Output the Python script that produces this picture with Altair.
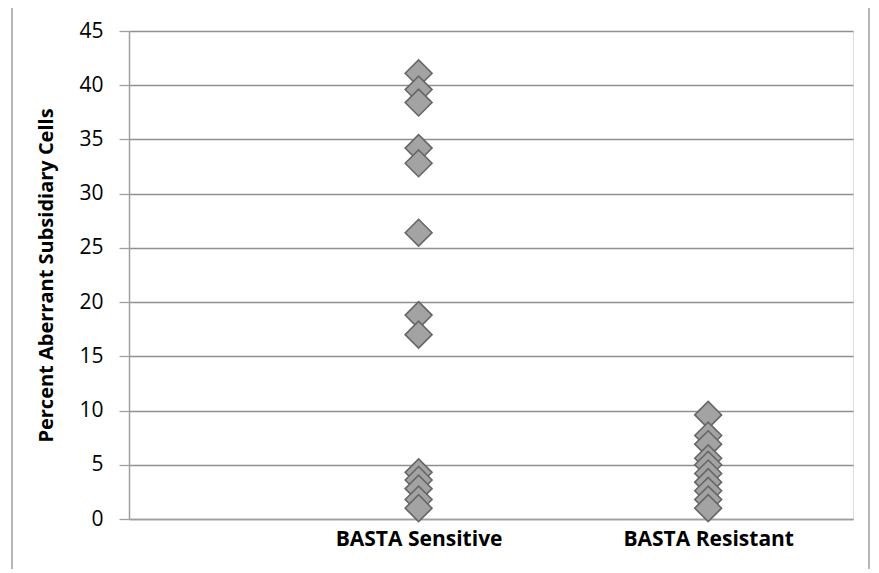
import altair as alt
import pandas as pd

categories = ["BASTA Sensitive", "BASTA Resistant"]
sensitive_values = [41.1, 39.6, 38.4, 34.2, 32.8, 26.4, 18.8, 17.0, 4.3, 3.6, 2.8, 1.8, 1.0]
resistant_values = [9.6, 7.7, 6.9, 5.6, 5.0, 4.2, 3.4, 2.6, 1.8, 1.0]

rows = []
for v in sensitive_values:
    rows.append({"pos": 1, "group": categories[0], "value": v})
for v in resistant_values:
    rows.append({"pos": 2, "group": categories[1], "value": v})
df = pd.DataFrame(rows)

font = "Open Sans"

points = alt.Chart(df).mark_point(
    shape="diamond", filled=True, size=720,
    fill="#a3a3a3", stroke="#666666", strokeWidth=1.6, opacity=1
).encode(
    x=alt.X("pos:Q", scale=alt.Scale(domain=[0, 2.5], nice=False, zero=False),
            axis=alt.Axis(values=[1, 2], labelExpr="datum.value == 1 ? 'BASTA Sensitive' : (datum.value == 2 ? 'BASTA Resistant' : '')",
                          grid=False, ticks=False, title=None, domainColor="#a0a0a0", domainWidth=1.5,
                          labelFont=font, labelFontSize=21, labelFontWeight="bold", labelColor="#000000",
                          labelPadding=9)),
    y=alt.Y("value:Q", scale=alt.Scale(domain=[0, 45], nice=False),
            axis=alt.Axis(values=list(range(0, 50, 5)), title="Percent Aberrant Subsidiary Cells",
                          titleFont=font, titleFontSize=20, titleFontWeight="bold", titleColor="#000000",
                          titlePadding=22,
                          labelFont=font, labelFontSize=21, labelColor="#000000", labelPadding=16,
                          gridColor="#8f8f8f", gridWidth=1.3, domainColor="#a0a0a0", domainWidth=1.5,
                          tickColor="#a0a0a0", tickSize=10, tickWidth=1.3))
)

frame = alt.Chart(pd.DataFrame({"a": [0]})).mark_rect(
    fill=None, stroke="#a0a0a0", strokeWidth=1.5
).encode(
    x=alt.value(-117), x2=alt.value(740), y=alt.value(-25), y2=alt.value(600)
)

chart = alt.layer(frame, points).properties(
    width=724, height=488,
    autosize=alt.AutoSizeParams(type="none"),
    padding={"left": 121, "top": 23, "right": 18, "bottom": 50}
).configure_view(stroke=None).configure(background="#ffffff")

chart.save("out.html", embed_options={"renderer": "svg", "actions": False})
